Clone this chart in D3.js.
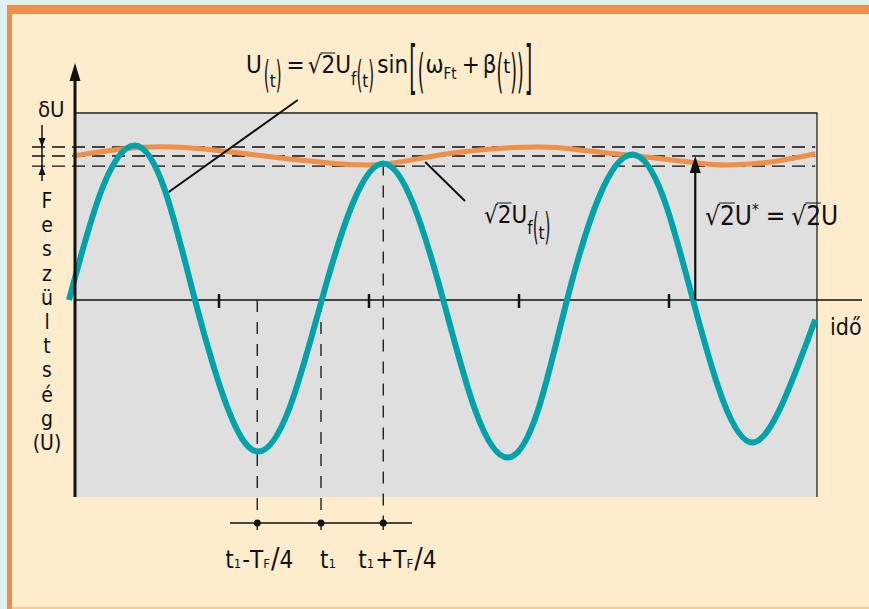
<!DOCTYPE html>
<html>
<head>
<meta charset="utf-8">
<script src="https://cdn.jsdelivr.net/npm/d3@7/dist/d3.min.js"></script>
<style>
  body { margin: 0; background: #fff; }
  text { font-family: "Liberation Sans Narrow", "DejaVu Sans Condensed", "Liberation Sans", sans-serif; fill: #111; }
</style>
</head>
<body>
<div id="js-chart"></div>
<script>
// teal wave U(t): time / value
const waveT = [0, 4.4, 8.8, 12.8, 16.8, 21.0, 25.1, 29.4, 33.7, 37.8, 41.9, 45.9, 49.9, 54.2, 58.5, 62.5, 66.4, 70.7, 75.1, 79.2, 83.2, 87.2, 91.2, 95.3, 99.5];
const waveU = [0, 0.74, 1.03, 0.73, 0, -0.70, -1.01, -0.72, 0, 0.64, 0.91, 0.64, 0, -0.74, -1.05, -0.74, 0, 0.69, 0.97, 0.69, 0, -0.67, -0.95, -0.67, -0.13];

// orange envelope sqrt2*Uf(t)
const envT = [0.5, 7.7, 13.9, 21.1, 27.7, 34.4, 41.9, 51.2, 62.4, 68.1, 74.8, 83.5, 87.7, 93.5, 99.5];
const envU = [0.96, 1.01, 1.02, 0.99, 0.95, 0.915, 0.905, 0.98, 1.02, 1.0, 0.965, 0.915, 0.90, 0.92, 0.975];

// dashed levels: max / mean / min of envelope
const dashLevels = [1.02, 0.96, 0.893];
const tickT = [20, 40, 60, 80];
// t1-TF/4, t1, t1+TF/4
const markT = [25.1, 33.6, 41.9];
const axisLetters = ['F', 'e', 's', 'z', 'ü', 'l', 't', 's', 'é', 'g', '(U)'];

const W = 869, H = 609;
const plot = { left: 74, right: 817, top: 113, bottom: 497 };
const teal = '#00a3aa', orange = '#ef8f48';

const svg = d3.select('#js-chart').append('svg')
  .attr('width', W).attr('height', H);

// frame
svg.append('rect').attr('width', W).attr('height', H).attr('fill', '#def0f0');
svg.append('rect').attr('x', 7).attr('y', 5).attr('width', W - 7).attr('height', H - 5).attr('fill', orange);
svg.append('rect').attr('x', 12).attr('y', 14).attr('width', W - 12).attr('height', H - 16).attr('fill', '#feedcc');
svg.append('rect').attr('x', 12).attr('y', H - 2).attr('width', W - 12).attr('height', 2).attr('fill', '#f9c994');

const x = d3.scaleLinear().domain([0, 100]).range([69, 819]);
const y = d3.scaleLinear().domain([-1.32, 1.25]).range([498, 112.5]);

svg.append('rect')
  .attr('x', plot.left).attr('y', plot.top)
  .attr('width', plot.right - plot.left).attr('height', plot.bottom - plot.top)
  .attr('fill', '#dfdfdf');
svg.append('path')
  .attr('d', `M${plot.left},${plot.top}H${plot.right}V${plot.bottom}`)
  .attr('fill', 'none').attr('stroke', '#222').attr('stroke-width', 1.3);

// dashed level lines
svg.append('g').selectAll('line').data(dashLevels).enter().append('line')
  .attr('x1', 32).attr('x2', x(99.5))
  .attr('y1', d => y(d)).attr('y2', d => y(d))
  .attr('stroke', '#111').attr('stroke-width', 1.3)
  .attr('stroke-dasharray', '13,7');

// vertical dashed markers
const bottomLineY = 523;
svg.append('g').selectAll('line').data(markT).enter().append('line')
  .attr('x1', d => x(d)).attr('x2', d => x(d))
  .attr('y1', (d, i) => i === 2 ? y(0.91) : y(0)).attr('y2', bottomLineY)
  .attr('stroke', '#111').attr('stroke-width', 1.3)
  .attr('stroke-dasharray', '12,10');

// x axis
svg.append('line')
  .attr('x1', plot.left).attr('x2', 862).attr('y1', y(0)).attr('y2', y(0))
  .attr('stroke', '#111').attr('stroke-width', 1.5);
svg.append('g').selectAll('line').data(tickT).enter().append('line')
  .attr('x1', d => x(d)).attr('x2', d => x(d))
  .attr('y1', y(0) - 6).attr('y2', y(0) + 8)
  .attr('stroke', '#111').attr('stroke-width', 2.5);

// curves
const line = d3.line().x(d => x(d[0])).y(d => y(d[1])).curve(d3.curveNatural);
svg.append('path')
  .datum(d3.zip(envT, envU))
  .attr('d', line)
  .attr('fill', 'none').attr('stroke', orange).attr('stroke-width', 5);
svg.append('path')
  .datum(d3.zip(waveT, waveU))
  .attr('d', line)
  .attr('fill', 'none').attr('stroke', teal).attr('stroke-width', 6);

// y axis with arrow
svg.append('line')
  .attr('x1', plot.left + 1).attr('x2', plot.left + 1).attr('y1', plot.bottom).attr('y2', 78)
  .attr('stroke', '#111').attr('stroke-width', 3);
svg.append('path')
  .attr('d', `M${plot.left + 1},63 l-5.5,18 h11 z`).attr('fill', '#111');

// leader lines
const leaders = [
  [[30.5, 1.333], [13.3, 0.72]],
  [[47.5, 0.92], [52.8, 0.66]]
];
svg.append('g').selectAll('line').data(leaders).enter().append('line')
  .attr('x1', d => x(d[0][0])).attr('y1', d => y(d[0][1]))
  .attr('x2', d => x(d[1][0])).attr('y2', d => y(d[1][1]))
  .attr('stroke', '#111').attr('stroke-width', 2);

// arrow sqrt2 U
const arrowT = 83.5;
svg.append('line')
  .attr('x1', x(arrowT)).attr('x2', x(arrowT)).attr('y1', y(0)).attr('y2', y(dashLevels[1]) + 14)
  .attr('stroke', '#111').attr('stroke-width', 2.2);
svg.append('path')
  .attr('d', `M${x(arrowT)},${y(dashLevels[1])} l-5.5,17 h11 z`).attr('fill', '#111');

// delta U marker
const dx = 42;
svg.append('line').attr('x1', dx).attr('x2', dx).attr('y1', 125).attr('y2', 181)
  .attr('stroke', '#111').attr('stroke-width', 1.5);
svg.append('path').attr('d', `M${dx},${y(dashLevels[0])} l-3.5,-9 h7 z`).attr('fill', '#111');
svg.append('path').attr('d', `M${dx},${y(dashLevels[2])} l-3.5,9 h7 z`).attr('fill', '#111');

// bottom time marks
svg.append('line').attr('x1', 230).attr('x2', 412).attr('y1', bottomLineY).attr('y2', bottomLineY)
  .attr('stroke', '#111').attr('stroke-width', 1.5);
svg.append('g').selectAll('circle').data(markT).enter().append('circle')
  .attr('cx', d => x(d)).attr('cy', bottomLineY).attr('r', 3.5).attr('fill', '#111');
svg.append('g').selectAll('line').data(markT).enter().append('line')
  .attr('x1', d => x(d)).attr('x2', d => x(d)).attr('y1', bottomLineY).attr('y2', bottomLineY + 7)
  .attr('stroke', '#111').attr('stroke-width', 1.3);

// text helper: runs of pieces with their own size / offset / scaling
function compose(g, x0, y0, parts) {
  let cx = x0;
  parts.forEach(p => {
    const sx = p.sx || 1, sy = p.sy || 1, size = p.size || 24;
    cx += p.pre || 0;
    const t = g.append('text')
      .attr('transform', `translate(${cx},${y0 + (p.dy || 0)}) scale(${sx},${sy})`)
      .style('font-size', size + 'px')
      .text(p.t);
    const w = t.node().getComputedTextLength() * sx;
    if (p.over) {
      g.append('line')
        .attr('x1', cx - 1).attr('x2', cx + w + (p.over - 1))
        .attr('y1', y0 - p.overY).attr('y2', y0 - p.overY)
        .attr('stroke', '#333').attr('stroke-width', 1.2);
    }
    cx += w + (p.post || 0);
  });
  return cx;
}

const paren = (t, extra) => Object.assign({ t: t, sx: 0.7, sy: 1.55, dy: 14 }, extra || {});

// formula
const fg = svg.append('g');
compose(fg, 246, 73, [
  { t: 'U' },
  paren('(', { pre: 2 }), { t: 't', size: 17, dy: 14 }, paren(')'),
  { t: '=', pre: 5, post: 3 },
  { t: '√' }, { t: '2', over: 1, overY: 20 }, { t: 'U' },
  { t: 'f', size: 17, dy: 12 }, paren('('), { t: 't', size: 17, dy: 14 }, paren(')'),
  { t: 'sin', pre: 3 },
  { t: '[', sx: 0.9, sy: 2.44, dy: 14.7, pre: 1 },
  { t: '(', sx: 0.8, sy: 1.95, dy: 14, pre: 1 },
  { t: 'ω', pre: 1 }, { t: 'Ft', size: 15, dy: 6 },
  { t: '+', pre: 5, post: 3 },
  { t: 'β' }, paren('(', { sx: 0.8, sy: 1.95 }), { t: 't', size: 20, dy: 0 }, paren(')', { sx: 0.8, sy: 1.95 }),
  { t: ')', sx: 0.8, sy: 1.95, dy: 14 },
  { t: ']', sx: 0.9, sy: 2.44, dy: 14.7, pre: 1 }
]);

// envelope label
compose(svg.append('g'), 484, 223, [
  { t: '√' }, { t: '2', over: 1, overY: 20 }, { t: 'U' },
  { t: 'f', size: 17, dy: 11 }, paren('(', { dy: 16 }), { t: 't', size: 17, dy: 16 }, paren(')', { dy: 16 })
]);

// arrow label
compose(svg.append('g'), 705, 225, [
  { t: '√', size: 26 }, { t: '2', size: 26, over: 1, overY: 22 }, { t: 'U', size: 26 }, { t: '*', size: 15, dy: -10 },
  { t: '=', size: 26, pre: 7, post: 6 },
  { t: '√', size: 26 }, { t: '2', size: 26, over: 1, overY: 22 }, { t: 'U', size: 26 }
]);

// axis titles
svg.append('text').attr('x', 830).attr('y', 335).style('font-size', '23px').text('idő');
svg.append('text').attr('x', 38).attr('y', 117).style('font-size', '22px').text('δU');
svg.append('g').selectAll('text').data(axisLetters).enter().append('text')
  .attr('x', 47).attr('y', (d, i) => 208 + i * 24.2)
  .attr('text-anchor', 'middle').style('font-size', '21px')
  .text(d => d);

// bottom labels t1-TF/4, t1, t1+TF/4
const sub = t => ({ t: t, size: 13 });
compose(svg.append('g'), x(markT[0]) - 32, 568, [
  { t: 't' }, sub('1'), { t: '-', pre: 1 }, { t: 'T' }, sub('F'), { t: '/', size: 28, pre: 1 }, { t: '4' }
]);
compose(svg.append('g'), x(markT[1]) - 1, 568, [{ t: 't' }, sub('1')]);
compose(svg.append('g'), x(markT[2]) - 25, 568, [
  { t: 't' }, sub('1'), { t: '+', pre: 1 }, { t: 'T' }, sub('F'), { t: '/', size: 28, pre: 1 }, { t: '4' }
]);
</script>
</body>
</html>
